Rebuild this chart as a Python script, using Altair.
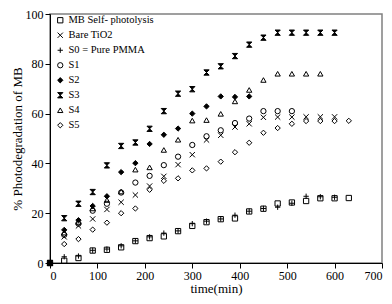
import altair as alt
import pandas as pd

times = [0, 30, 60, 90, 120, 150, 180, 210, 240, 270, 300, 330, 360, 390, 420, 450, 480, 510, 540, 570, 600, 630]

series_names = ["MB Self- photolysis", "Bare TiO2", "S0 = Pure PMMA", "S1", "S2", "S3", "S4", "S5"]

mb_self = [0, 0.9, 2.0, 5.0, 5.3, 6.3, 8.8, 10.0, 10.7, 12.8, 14.9, 16.4, 17.6, 17.9, 20.7, 21.8, 23.9, 24.3, 24.9, 26.0, 26.0, 26.1]
bare_tio2 = [0, 10.5, 14.9, 17.7, 21.5, 24.4, 27.3, 30.9, 34.8, 39.5, 43.5, 49.4, 51.3, 54.6, 55.9, 58.5, 58.6, 58.6, 58.7, 58.7, 58.7]
s0_pmma = [0, 2.5, 2.8, 5.1, 5.6, 6.9, 8.9, 10.5, 12.0, 12.9, 15.8, 16.8, 17.7, 19.2, 20.8, 21.9, 22.4, 24.0, 26.8, 26.6, 26.4]
s1 = [0, 11.3, 15.8, 21.0, 23.8, 28.3, 32.3, 35.0, 39.3, 42.7, 47.4, 50.9, 53.3, 56.2, 58.0, 61.0, 61.0, 61.0]
s2 = [0, 13.3, 17.2, 22.9, 26.8, 36.5, 40.1, 47.8, 51.5, 54.0, 60.0, 62.9, 66.9, 66.7, 66.9]
s3 = [0, 18.0, 23.8, 28.5, 39.2, 47.0, 48.4, 53.9, 61.0, 68.0, 69.8, 76.5, 79.0, 83.1, 87.7, 90.5, 92.5, 92.5, 92.5, 92.5, 92.5]
s4 = [0, 12.2, 16.5, 21.9, 25.3, 28.7, 37.5, 38.4, 45.4, 49.5, 57.2, 57.4, 59.9, 64.9, 69.5, 73.5, 76.0, 76.0, 76.0, 76.0]
s5 = [0, 7.6, 9.6, 13.4, 16.2, 20.0, 21.9, 29.4, 33.0, 34.0, 37.2, 38.0, 40.7, 44.5, 48.3, 52.3, 54.2, 55.9, 57.0, 57.0, 57.0, 57.1]

all_series = [mb_self, bare_tio2, s0_pmma, s1, s2, s3, s4, s5]

rows = []
for name, vals in zip(series_names, all_series):
    for t, v in zip(times, vals):
        rows.append({"time": t, "value": v, "series": name})
df = pd.DataFrame(rows)

shapes = [
    "square",
    "M-1,-1L1,1M-1,1L1,-1",
    "M-1,0L1,0M0,-1L0,1",
    "circle",
    "diamond",
    "M-1,-1L1,-1L-1,1L1,1Z",
    "triangle-up",
    "diamond",
]
fills = ["transparent", "transparent", "transparent", "transparent", "black", "black", "transparent", "transparent"]

font = "Liberation Serif"

legend = alt.Legend(title=None, orient="none", legendX=5, legendY=1)

chart = alt.Chart(df).mark_point(
    filled=True, stroke="black", strokeWidth=1, size=28, opacity=1
).encode(
    x=alt.X("time:Q", scale=alt.Scale(domain=[0, 700], nice=False),
            axis=alt.Axis(values=list(range(0, 701, 100)), title="time(min)", titlePadding=1)),
    y=alt.Y("value:Q", scale=alt.Scale(domain=[0, 100], nice=False),
            axis=alt.Axis(values=[0, 20, 40, 60, 80, 100], title="% Photodegradation of MB", titlePadding=1)),
    shape=alt.Shape("series:N", scale=alt.Scale(domain=series_names, range=shapes), legend=legend),
    color=alt.Color("series:N", scale=alt.Scale(domain=series_names, range=fills), legend=legend),
).properties(
    width=332, height=249,
    padding={"left": 42, "top": 6, "right": 2, "bottom": 33},
    autosize=alt.AutoSizeParams(type="none"),
).configure_axis(
    labelFont=font, titleFont=font, labelFontSize=12, titleFontSize=13,
    titleFontWeight="normal", labelColor="black", titleColor="black",
    domainColor="black", tickColor="black", tickSize=5, grid=False, labelPadding=2,
).configure_view(
    stroke="#808080", strokeWidth=1.5,
).configure_legend(
    labelFont=font, labelFontSize=10.5, labelColor="black", rowPadding=4,
    symbolSize=28, labelOffset=3, padding=0, symbolStrokeWidth=1,
)

chart.save("out.html", embed_options={"renderer": "svg", "actions": False})
